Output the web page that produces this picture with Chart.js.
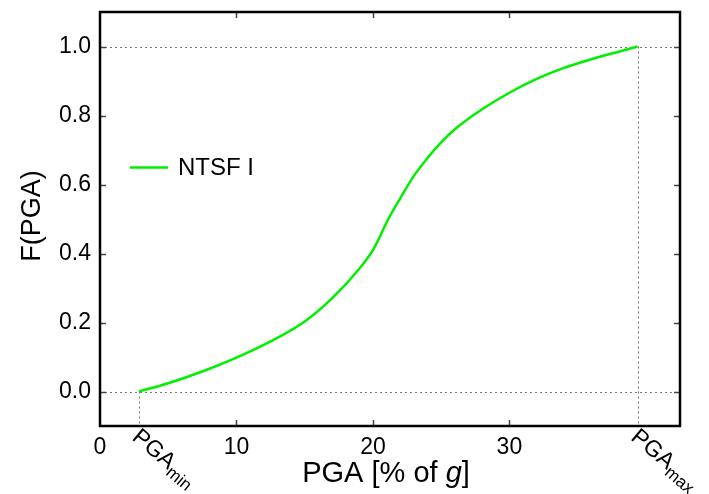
<!DOCTYPE html>
<html>
<head>
<meta charset="utf-8">
<script src="https://cdn.jsdelivr.net/npm/chart.js@4"></script>
<style>
	html, body { margin: 0; padding: 0; background: #fff; }
	#wrap { width: 709px; height: 494px; }
</style>
</head>
<body>
<div id="wrap"><canvas id="chart" width="709" height="494"></canvas></div>
<script>
// values
const pga_values = [2.85, 5.0, 7.5, 10.0, 12.5, 15.0, 17.0, 19.0, 20.0, 20.5, 21.0, 22.0, 23.0, 24.0, 25.0, 26.0, 28.0, 30.0, 32.0, 34.0, 36.0, 38.0, 39.4];
const f_values   = [0, 0.024, 0.058, 0.098, 0.145, 0.203, 0.27, 0.356, 0.41, 0.448, 0.49, 0.56, 0.625, 0.677, 0.722, 0.76, 0.818, 0.866, 0.906, 0.938, 0.963, 0.985, 1.0];
const x_ticks = [0, 10, 20, 30];
const y_ticks = [0, 0.2, 0.4, 0.6, 0.8, 1.0];
const pga_min = 2.85;
const pga_max = 39.4;
const series_label = 'NTSF I';

const font_family = '"Liberation Sans", Arial, sans-serif';
const line_color = '#00f000';

const points = pga_values.map((x, i) => ({x: x, y: f_values[i]}));

// frame, inward ticks, dotted guides, custom labels and titles
const decor = {
	id: 'decor',
	beforeDatasetsDraw(chart){
		const ctx = chart.ctx;
		const a = chart.chartArea;
		const xs = chart.scales.x, ys = chart.scales.y;
		const y0 = ys.getPixelForValue(0), y1 = ys.getPixelForValue(1);
		const xmin = xs.getPixelForValue(pga_min), xmax = xs.getPixelForValue(pga_max);
		ctx.save();
		ctx.strokeStyle = '#777';
		ctx.lineWidth = 1;
		ctx.setLineDash([2, 3]);
		ctx.beginPath();
		ctx.moveTo(a.left, Math.round(y0) + 0.5); ctx.lineTo(a.right, Math.round(y0) + 0.5);
		ctx.moveTo(a.left, Math.round(y1) + 0.5); ctx.lineTo(a.right, Math.round(y1) + 0.5);
		ctx.moveTo(Math.round(xmin) + 0.5, y0); ctx.lineTo(Math.round(xmin) + 0.5, a.bottom);
		ctx.moveTo(Math.round(xmax) + 0.5, y1); ctx.lineTo(Math.round(xmax) + 0.5, a.bottom);
		ctx.stroke();
		ctx.restore();
	},
	afterDraw(chart){
		const ctx = chart.ctx;
		const a = chart.chartArea;
		const xs = chart.scales.x, ys = chart.scales.y;
		ctx.save();

		// inward ticks
		ctx.strokeStyle = '#444';
		ctx.lineWidth = 1.5;
		ctx.beginPath();
		x_ticks.slice(1).forEach(v => {
			const px = Math.round(xs.getPixelForValue(v)) + 0.5;
			ctx.moveTo(px, a.bottom); ctx.lineTo(px, a.bottom - 6);
			ctx.moveTo(px, a.top); ctx.lineTo(px, a.top + 6);
		});
		y_ticks.forEach(v => {
			const py = Math.round(ys.getPixelForValue(v)) + 0.5;
			ctx.moveTo(a.left, py); ctx.lineTo(a.left + 6, py);
			ctx.moveTo(a.right, py); ctx.lineTo(a.right - 6, py);
		});
		ctx.stroke();

		// frame
		ctx.strokeStyle = '#000';
		ctx.lineWidth = 2.5;
		ctx.strokeRect(a.left, a.top, a.right - a.left, a.bottom - a.top);

		// PGA_min / PGA_max labels, rotated
		ctx.fillStyle = '#000';
		ctx.textBaseline = 'alphabetic';
		ctx.textAlign = 'left';
		[[pga_min, 'min'], [pga_max, 'max']].forEach(([v, sub]) => {
			const px = xs.getPixelForValue(v);
			ctx.save();
			ctx.translate(px - 8, a.bottom + 13);
			ctx.rotate(40 * Math.PI / 180);
			ctx.font = '23px ' + font_family;
			ctx.fillText('PGA', 0, 0);
			const w = ctx.measureText('PGA').width;
			ctx.font = '17px ' + font_family;
			ctx.fillText(sub, w, 5);
			ctx.restore();
		});

		// x title with italic g
		const parts = [['PGA [% of ', 'normal'], ['g', 'italic'], [']', 'normal']];
		let total = 0;
		parts.forEach(p => { ctx.font = p[1] + ' 29px ' + font_family; total += ctx.measureText(p[0]).width; });
		let x = 386 - total / 2;
		parts.forEach(p => {
			ctx.font = p[1] + ' 29px ' + font_family;
			ctx.fillText(p[0], x, 482);
			x += ctx.measureText(p[0]).width;
		});

		// y title
		ctx.save();
		ctx.translate(40, 216);
		ctx.rotate(-Math.PI / 2);
		ctx.textAlign = 'center';
		ctx.font = '27px ' + font_family;
		ctx.fillText('F(PGA)', 0, 0);
		ctx.restore();

		// legend
		ctx.strokeStyle = line_color;
		ctx.lineWidth = 2.5;
		ctx.beginPath();
		ctx.moveTo(130, 167.5); ctx.lineTo(168, 167.5);
		ctx.stroke();
		ctx.font = '24px ' + font_family;
		ctx.textBaseline = 'middle';
		ctx.fillText(series_label, 178, 168);

		ctx.restore();
	}
};

new Chart(document.getElementById('chart'), {
	type: 'scatter',
	data: {
		datasets: [{
			label: series_label,
			data: points,
			showLine: true,
			borderColor: line_color,
			borderWidth: 2.5,
			pointRadius: 0,
			cubicInterpolationMode: 'monotone'
		}]
	},
	options: {
		responsive: false,
		animation: false,
		layout: { padding: { left: 0, right: 29, top: 12, bottom: 0 } },
		plugins: { legend: { display: false }, tooltip: { enabled: false } },
		scales: {
			x: {
				type: 'linear',
				min: 0,
				max: 42.5,
				afterBuildTicks: s => { s.ticks = x_ticks.map(v => ({value: v})); },
				afterFit: s => { s.height = 68; s.paddingLeft = 0; s.paddingRight = 0; },
				grid: { display: false },
				border: { display: false },
				ticks: {
					color: '#000',
					padding: 0,
					maxRotation: 0,
					font: { family: font_family, size: 23 },
					callback: v => String(v)
				}
			},
			y: {
				min: -0.1,
				max: 1.1,
				afterBuildTicks: s => { s.ticks = y_ticks.map(v => ({value: v})); },
				afterFit: s => { s.width = 100; s.paddingTop = 0; s.paddingBottom = 0; },
				grid: { display: false },
				border: { display: false },
				ticks: {
					color: '#000',
					padding: 1,
					font: { family: font_family, size: 23 },
					callback: v => Number(v).toFixed(1)
				}
			}
		}
	},
	plugins: [decor]
});
</script>
</body>
</html>
